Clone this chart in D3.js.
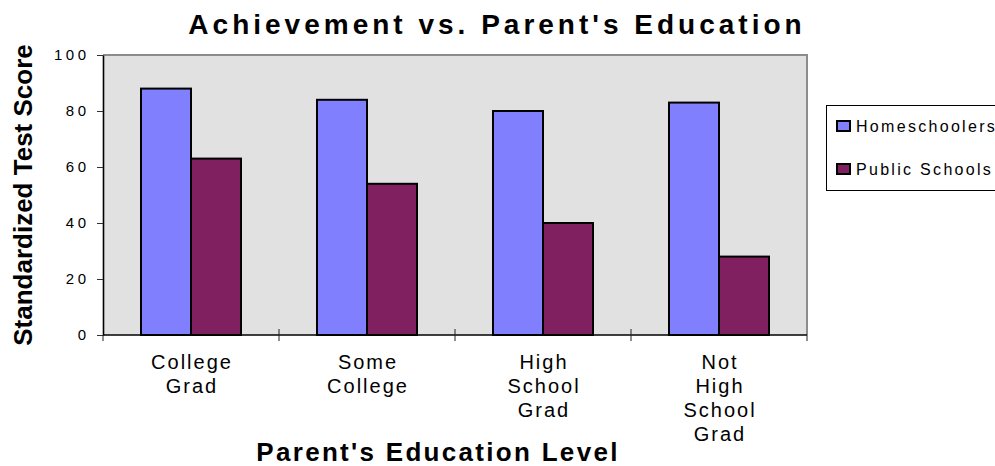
<!DOCTYPE html>
<html lang="en">
<head>
  <meta charset="UTF-8">
  <title>Achievement vs. Parent's Education</title>
  <script src="https://cdn.jsdelivr.net/npm/d3@7"></script>
  <style>
    body { margin: 0; background: #fff; }
    svg text { font-family: "Liberation Sans", Arial, sans-serif; fill: #000; }
  </style>
</head>
<body>
  <div id="viz"></div>
  <script>
    // chart data
    var categories = ["College Grad", "Some College", "High School Grad", "Not High School Grad"];
    var seriesNames = ["Homeschoolers", "Public Schools"];
    var homeschoolers = [88, 84, 80, 83];
    var publicSchools = [63, 54, 40, 28];
    var yTicks = [0, 20, 40, 60, 80, 100];
    var colors = ["#8080ff", "#802060"];

    var width = 995;
    var height = 466;
    // plot area
    var plot = { left: 103, right: 807, top: 55, bottom: 335 };

    var svg = d3.select("#viz").append("svg")
      .attr("width", width)
      .attr("height", height);

    // scales
    var x = d3.scaleBand()
      .domain(categories)
      .range([plot.left, plot.right])
      .padding(0);

    var xSub = d3.scaleBand()
      .domain(seriesNames)
      .range([0, x.bandwidth()])
      .paddingInner(0)
      .paddingOuter(0.76);

    var y = d3.scaleLinear()
      .domain([0, 100])
      .range([plot.bottom, plot.top]);

    // plot background
    svg.append("rect")
      .attr("x", plot.left)
      .attr("y", plot.top)
      .attr("width", plot.right - plot.left)
      .attr("height", plot.bottom - plot.top)
      .attr("fill", "#e1e1e1");

    // grey frame on top and right
    svg.append("path")
      .attr("d", "M" + plot.left + "," + plot.top + "H" + plot.right + "V" + plot.bottom)
      .attr("fill", "none")
      .attr("stroke", "#8c8c8c")
      .attr("stroke-width", 2);

    // bars
    var rows = categories.map(function(c, i) {
      return { cat: c, values: [homeschoolers[i], publicSchools[i]] };
    });

    var groups = svg.append("g")
      .selectAll("g")
      .data(rows)
      .enter().append("g")
      .attr("transform", function(d) { return "translate(" + x(d.cat) + ",0)"; });

    groups.selectAll("rect")
      .data(function(d) {
        return d.values.map(function(v, j) { return { name: seriesNames[j], value: v, idx: j }; });
      })
      .enter().append("rect")
      .attr("x", function(d) { return xSub(d.name); })
      .attr("y", function(d) { return y(d.value); })
      .attr("width", xSub.bandwidth())
      .attr("height", function(d) { return y(0) - y(d.value); })
      .attr("fill", function(d) { return colors[d.idx]; })
      .attr("stroke", "#000")
      .attr("stroke-width", 2);

    // y axis
    var yAxis = svg.append("g")
      .attr("transform", "translate(" + plot.left + ",0)")
      .call(d3.axisLeft(y).tickValues(yTicks).tickSize(6).tickSizeOuter(0).tickPadding(7.5));
    yAxis.select(".domain").attr("stroke", "#000").attr("stroke-width", 1.6);
    yAxis.selectAll(".tick line").attr("stroke", "#333");
    yAxis.selectAll(".tick text")
      .style("font-size", "15px")
      .style("letter-spacing", "3.5px")
      .attr("fill", "#000");

    // x axis line
    svg.append("line")
      .attr("x1", plot.left)
      .attr("x2", plot.right)
      .attr("y1", y(0))
      .attr("y2", y(0))
      .attr("stroke", "#000")
      .attr("stroke-width", 1.6);

    // category boundary ticks
    var bounds = categories.map(function(c) { return x(c); }).concat([x.range()[1]]);
    svg.append("g").selectAll("line")
      .data(bounds)
      .enter().append("line")
      .attr("x1", function(d) { return d; })
      .attr("x2", function(d) { return d; })
      .attr("y1", function(d, i) { return (i === 0 || i === bounds.length - 1) ? y(0) : y(0) - 6; })
      .attr("y2", y(0) + 6)
      .attr("stroke", "#222")
      .attr("stroke-width", 1);

    // category labels, one word per line
    svg.append("g").selectAll("text")
      .data(categories)
      .enter().append("text")
      .attr("text-anchor", "middle")
      .style("font-size", "20px")
      .style("letter-spacing", "2px")
      .each(function(c) {
        var t = d3.select(this);
        c.split(" ").forEach(function(w, k) {
          t.append("tspan")
            .attr("x", x(c) + x.bandwidth() / 2 + 1)
            .attr("y", 369 + k * 24)
            .text(w);
        });
      });

    // title
    svg.append("text")
      .attr("x", 497)
      .attr("y", 34)
      .attr("text-anchor", "middle")
      .style("font-size", "28px")
      .style("font-weight", "bold")
      .style("letter-spacing", "4px")
      .text("Achievement vs. Parent's Education");

    // x axis title
    svg.append("text")
      .attr("x", 438)
      .attr("y", 461)
      .attr("text-anchor", "middle")
      .style("font-size", "26px")
      .style("font-weight", "bold")
      .style("letter-spacing", "2.3px")
      .text("Parent's Education Level");

    // y axis title
    svg.append("text")
      .attr("transform", "translate(32," + ((plot.top + plot.bottom) / 2) + ") rotate(-90)")
      .attr("text-anchor", "middle")
      .style("font-size", "26px")
      .style("font-weight", "bold")
      .text("Standardized Test Score");

    // legend
    var legend = svg.append("g").attr("transform", "translate(826,105)");
    legend.append("rect")
      .attr("x", 0.5)
      .attr("y", 0.5)
      .attr("width", 200)
      .attr("height", 85)
      .attr("fill", "#fff")
      .attr("stroke", "#000")
      .attr("stroke-width", 1);

    var items = legend.selectAll("g.item")
      .data(seriesNames)
      .enter().append("g")
      .attr("class", "item")
      .attr("transform", function(d, i) { return "translate(0," + (i * 43) + ")"; });

    items.append("rect")
      .attr("x", 11)
      .attr("y", 16)
      .attr("width", 13)
      .attr("height", 10)
      .attr("fill", function(d, i) { return colors[i]; })
      .attr("stroke", "#000")
      .attr("stroke-width", 2);

    items.append("text")
      .attr("x", 30)
      .attr("y", 27)
      .style("font-size", "16px")
      .style("letter-spacing", "2.3px")
      .text(function(d) { return d; });
  </script>
</body>
</html>
